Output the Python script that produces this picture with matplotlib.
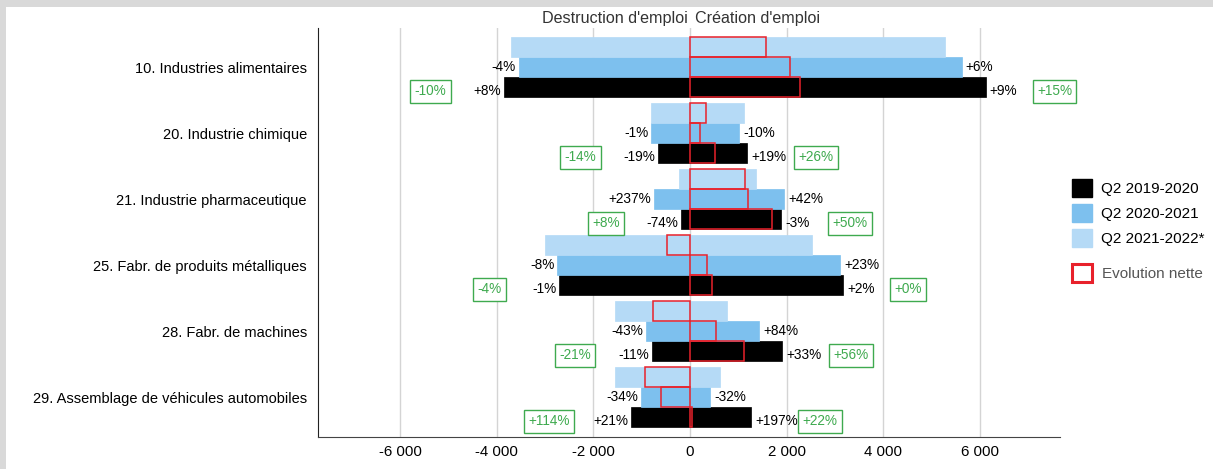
import matplotlib.pyplot as plt
from matplotlib.patches import Patch, Rectangle
from matplotlib.ticker import FuncFormatter
import numpy as np

plt.rcParams["font.family"] = ["Liberation Sans", "DejaVu Sans"]

categories = [
    "10. Industries alimentaires",
    "20. Industrie chimique",
    "21. Industrie pharmaceutique",
    "25. Fabr. de produits métalliques",
    "28. Fabr. de machines",
    "29. Assemblage de véhicules automobiles",
]
periods = ["Q2 2019-2020", "Q2 2020-2021", "Q2 2021-2022*"]

# destruction (negative) and creation (positive) of jobs per period
destruction = {
    "Q2 2019-2020": [-3850, -670, -190, -2710, -790, -1220],
    "Q2 2020-2021": [-3545, -800, -750, -2745, -900, -1010],
    "Q2 2021-2022*": [-3695, -800, -230, -3005, -1550, -1550],
}
creation = {
    "Q2 2019-2020": [6120, 1190, 1885, 3165, 1905, 1262],
    "Q2 2020-2021": [5625, 1010, 1950, 3100, 1430, 418],
    "Q2 2021-2022*": [5275, 1125, 1375, 2525, 775, 618],
}

# % labels next to the bars (Q2 2020-2021 and Q2 2019-2020)
pct_destr_2021 = ["-4%", "-1%", "+237%", "-8%", "-43%", "-34%"]
pct_creat_2021 = ["+6%", "-10%", "+42%", "+23%", "+84%", "-32%"]
pct_destr_1920 = ["+8%", "-19%", "-74%", "-1%", "-11%", "+21%"]
pct_creat_1920 = ["+9%", "+19%", "-3%", "+2%", "+33%", "+197%"]
# green boxed labels
box_destr = ["-10%", "-14%", "+8%", "-4%", "-21%", "+114%"]
box_creat = ["+15%", "+26%", "+50%", "+0%", "+56%", "+22%"]

colors = {
    "Q2 2019-2020": "#000000",
    "Q2 2020-2021": "#7dc0ee",
    "Q2 2021-2022*": "#b5daf6",
}
red = "#e8212b"
green = "#3faa4f"

W, H = 1213, 469
fig = plt.figure(figsize=(W / 100, H / 100), dpi=100)
fig.patch.set_facecolor("#d9d9d9")
fig.patches.append(Rectangle((6 / W, 0), 1, 1 - 7 / H, transform=fig.transFigure,
                             facecolor="white", edgecolor="none", zorder=-1))

ax = fig.add_axes((318 / W, 1 - 437 / H, (1060 - 318) / W, (437 - 28) / H))
ax.set_facecolor("none")

y = np.arange(len(categories))
h = 20 / 66
offsets = {"Q2 2021-2022*": -h, "Q2 2020-2021": 0.0, "Q2 2019-2020": h}

for p in periods:
    yy = y + offsets[p]
    neg = np.array(destruction[p])
    pos = np.array(creation[p])
    ax.barh(yy, neg, height=h, color=colors[p], edgecolor=colors[p], lw=0.5, zorder=2)
    ax.barh(yy, pos, height=h, color=colors[p], edgecolor=colors[p], lw=0.5, zorder=2)

for p in periods:
    yy = y + offsets[p]
    net = np.array(creation[p]) + np.array(destruction[p])
    ax.barh(yy, net, height=h, facecolor="none", edgecolor=red, lw=1.1, zorder=3)

pct_fs = 9.8
for i in range(len(categories)):
    for p, ld, lc, dy in [("Q2 2020-2021", pct_destr_2021, pct_creat_2021, 0),
                          ("Q2 2019-2020", pct_destr_1920, pct_creat_1920, -3)]:
        yy = y[i] + offsets[p]
        ax.annotate(ld[i], (destruction[p][i], yy), xytext=(-2, dy),
                    textcoords="offset points", ha="right", va="center",
                    fontsize=pct_fs, zorder=4)
        ax.annotate(lc[i], (creation[p][i], yy), xytext=(3, dy),
                    textcoords="offset points", ha="left", va="center",
                    fontsize=pct_fs, zorder=4)
    yy = y[i] + offsets["Q2 2019-2020"]
    bb = dict(boxstyle="square,pad=0.32", facecolor="white", edgecolor=green, lw=1.0)
    gap_l = 34 + 2.5 * len(pct_destr_1920[i])
    ax.annotate(box_destr[i], (destruction["Q2 2019-2020"][i], yy), xytext=(-gap_l, -3),
                textcoords="offset points", ha="right", va="center",
                fontsize=pct_fs, color=green, bbox=bb, zorder=4)
    ax.annotate(box_creat[i], (creation["Q2 2019-2020"][i], yy), xytext=(37, -3),
                textcoords="offset points", ha="left", va="center",
                fontsize=pct_fs, color=green, bbox=bb, zorder=4)

ax.set_xlim(-7700, 7660)
ax.set_ylim(5 + 40 / 66, -39 / 66)
ax.set_xticks(np.arange(-6000, 6001, 2000))
ax.xaxis.set_major_formatter(FuncFormatter(lambda v, _: f"{v:,.0f}".replace(",", " ")))
ax.tick_params(axis="x", length=0, pad=6, labelsize=10.8)
ax.set_yticks(y)
ax.set_yticklabels(categories, fontsize=10.5)
ax.tick_params(axis="y", length=0, pad=8)
ax.grid(axis="x", color="#d4d4d4", lw=1, zorder=0)
ax.set_axisbelow(True)
for s in ["top", "right"]:
    ax.spines[s].set_visible(False)
ax.spines["left"].set_color("#222222")
ax.spines["bottom"].set_color("#444444")

fig.text(688 / W, 1 - 18 / H, "Destruction d'emploi", ha="right", va="center",
         fontsize=11.6, color="#333333")
fig.text(695 / W, 1 - 18 / H, "Création d'emploi", ha="left", va="center",
         fontsize=11.6, color="#333333")

handles = [Patch(facecolor=colors[p], edgecolor=colors[p]) for p in periods]
fig.legend(handles, periods, loc="upper left", bbox_to_anchor=(1058 / W, 1 - 165 / H),
           frameon=False, fontsize=11, handlelength=1.35, handleheight=1.45,
           handletextpad=0.55, labelspacing=0.45)
fig.legend([Patch(facecolor="white", edgecolor=red, lw=2.2)], ["Evolution nette"],
           loc="upper left", bbox_to_anchor=(1058 / W, 1 - 250 / H),
           frameon=False, fontsize=11, handlelength=1.35, handleheight=1.45,
           handletextpad=0.65, labelcolor="#555555")

fig.savefig("out.png", dpi=100, facecolor=fig.get_facecolor())
